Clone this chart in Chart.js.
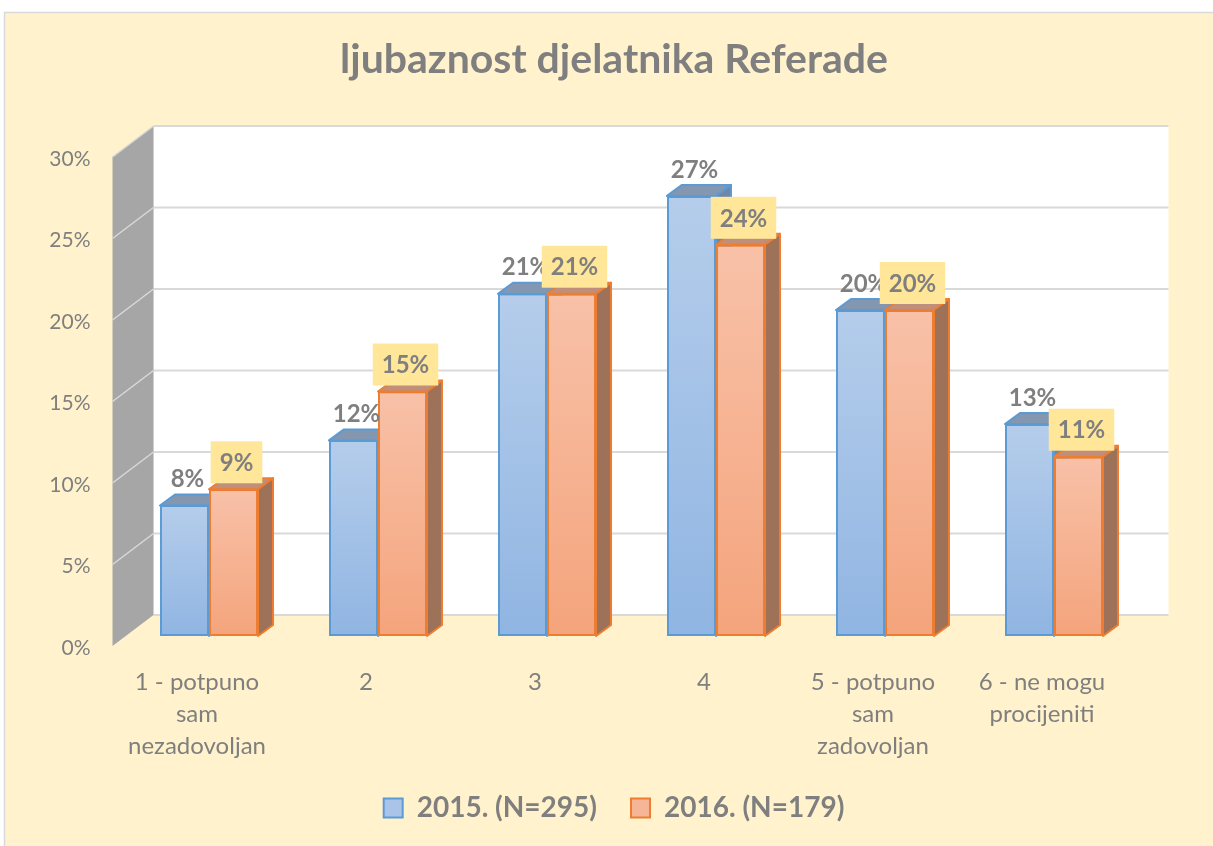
<!DOCTYPE html>
<html>
<head>
<meta charset="utf-8">
<script src="https://cdn.jsdelivr.net/npm/chart.js@4/dist/chart.umd.min.js"></script>
<style>
  html, body { margin: 0; padding: 0; background: #fff; }
  #wrap { width: 1213px; height: 846px; }
</style>
</head>
<body>
<div id="wrap"><canvas id="chart" width="1213" height="846"></canvas></div>
<script>
// podaci
const categories = [
  ['1 - potpuno', 'sam', 'nezadovoljan'],
  '2',
  '3',
  '4',
  ['5 - potpuno', 'sam', 'zadovoljan'],
  ['6 - ne mogu', 'procijeniti']
];
const values2015 = [8, 12, 21, 27, 20, 13];
const values2016 = [9, 15, 21, 24, 20, 11];
const seriesNames = ['2015. (N=295)', '2016. (N=179)'];
const yTicks = [0, 5, 10, 15, 20, 25, 30];

const FONT = 'Lato, "Open Sans", sans-serif';
const GREY = '#7f7f7f';

// dubina 3D stupaca
const BAR_DX = 15, BAR_DY = -11;
// pomak zida i poda u odnosu na prednju stranu stupaca
const WALL_DX = 29, WALL_DY = -21;
const FLOOR_DX = -12, FLOOR_DY = 10;

const palette = [
  { top: '#b5cdeb', bottom: '#90b5e2', border: '#5b9bd5', cap: '#8497b0', side: '#6f87a6', legend: '#a9c4e8' },
  { top: '#f8c1a8', bottom: '#f4a47c', border: '#ed7d31', cap: '#bf8f7b', side: '#9e7159', legend: '#f6b597' }
];

function barGradient(ctx, i) {
  const chart = ctx.chart;
  const y = chart.scales.y;
  if (!chart.chartArea || !y || ctx.raw == null) return palette[i].bottom;
  const g = chart.ctx.createLinearGradient(0, y.getPixelForValue(ctx.raw), 0, y.getPixelForValue(0));
  g.addColorStop(0, palette[i].top);
  g.addColorStop(1, palette[i].bottom);
  return g;
}

// pozadina grafikona
const backgroundPlugin = {
  id: 'background',
  beforeDraw(chart) {
    const c = chart.ctx;
    c.save();
    c.fillStyle = '#ffffff';
    c.fillRect(0, 0, chart.width, chart.height);
    c.fillStyle = '#fff2cc';
    c.fillRect(4, 12, chart.width - 4, chart.height - 12);
    c.strokeStyle = '#d9d9d9';
    c.lineWidth = 1.5;
    c.strokeRect(4.5, 12.5, chart.width, chart.height);
    c.restore();
  }
};

// stražnji i lijevi zid s mrežom
const wallsPlugin = {
  id: 'walls',
  beforeDatasetsDraw(chart) {
    const c = chart.ctx;
    const a = chart.chartArea;
    const y = chart.scales.y;
    const wl = a.left + WALL_DX, wr = a.right + WALL_DX + 1;
    const fl = a.left + FLOOR_DX;
    const yTop = y.getPixelForValue(yTicks[yTicks.length - 1]);
    const yBot = y.getPixelForValue(0);
    c.save();
    // stražnji zid
    c.fillStyle = '#ffffff';
    c.fillRect(wl, yTop + WALL_DY, wr - wl, yBot - yTop);
    c.strokeStyle = '#d9d9d9';
    c.lineWidth = 2;
    yTicks.forEach(v => {
      const py = y.getPixelForValue(v) + WALL_DY;
      c.beginPath();
      c.moveTo(wl, py);
      c.lineTo(wr, py);
      c.stroke();
    });
    // lijevi zid
    c.fillStyle = '#a6a6a6';
    c.beginPath();
    c.moveTo(fl, yTop + FLOOR_DY);
    c.lineTo(wl, yTop + WALL_DY);
    c.lineTo(wl, yBot + WALL_DY);
    c.lineTo(fl, yBot + FLOOR_DY);
    c.closePath();
    c.fill();
    c.strokeStyle = '#d9d9d9';
    c.lineWidth = 1.5;
    yTicks.forEach(v => {
      const py = y.getPixelForValue(v);
      if (v === 0) return;
      c.beginPath();
      c.moveTo(fl, py + FLOOR_DY);
      c.lineTo(wl, py + WALL_DY);
      c.stroke();
    });
    c.restore();
  }
};

function drawFaces(c, meta, col) {
  c.save();
  c.lineWidth = 2;
  c.lineJoin = 'round';
  c.strokeStyle = col.border;
  meta.data.forEach(bar => {
    const p = bar.getProps(['x', 'y', 'base', 'width'], true);
    const l = p.x - p.width / 2, r = p.x + p.width / 2;
    // gornja ploha
    c.fillStyle = col.cap;
    c.beginPath();
    c.moveTo(l, p.y);
    c.lineTo(l + BAR_DX, p.y + BAR_DY);
    c.lineTo(r + BAR_DX, p.y + BAR_DY);
    c.lineTo(r, p.y);
    c.closePath();
    c.fill();
    c.stroke();
    // bočna ploha
    c.fillStyle = col.side;
    c.beginPath();
    c.moveTo(r, p.y);
    c.lineTo(r + BAR_DX, p.y + BAR_DY);
    c.lineTo(r + BAR_DX, p.base + BAR_DY);
    c.lineTo(r, p.base);
    c.closePath();
    c.fill();
    c.stroke();
  });
  c.restore();
}

// 3D stupci: plavi pa narančasti preko njih
const bars3dPlugin = {
  id: 'bars3d',
  afterDatasetsDraw(chart) {
    const c = chart.ctx;
    const m0 = chart.getDatasetMeta(0);
    const m1 = chart.getDatasetMeta(1);
    drawFaces(c, m0, palette[0]);
    m1.data.forEach(el => el.draw(c));
    drawFaces(c, m1, palette[1]);
  }
};

// oznake vrijednosti
const labelsPlugin = {
  id: 'valueLabels',
  afterDatasetsDraw(chart) {
    const c = chart.ctx;
    c.save();
    c.font = 'bold 24px ' + FONT;
    c.textAlign = 'center';
    c.textBaseline = 'middle';
    [0, 1].forEach(i => {
      const meta = chart.getDatasetMeta(i);
      meta.data.forEach((bar, j) => {
        const text = chart.data.datasets[i].data[j] + '%';
        const cx = bar.x + 3;
        const cy = bar.y - 27;
        if (i === 1) {
          const w = c.measureText(text).width + 18;
          c.fillStyle = '#ffe699';
          c.fillRect(cx - w / 2, cy - 21, w, 42);
        }
        c.fillStyle = GREY;
        c.fillText(text, cx, cy + 1);
      });
    });
    c.restore();
  }
};

new Chart(document.getElementById('chart'), {
  type: 'bar',
  data: {
    labels: categories,
    datasets: [
      {
        label: seriesNames[0],
        data: values2015,
        backgroundColor: ctx => barGradient(ctx, 0),
        borderColor: palette[0].border,
        borderWidth: 2,
        borderSkipped: false
      },
      {
        label: seriesNames[1],
        data: values2016,
        backgroundColor: ctx => barGradient(ctx, 1),
        borderColor: palette[1].border,
        borderWidth: 2,
        borderSkipped: false
      }
    ]
  },
  options: {
    responsive: false,
    animation: false,
    layout: { padding: { left: 40, right: 25, top: 0, bottom: 14 } },
    categoryPercentage: 0.58,
    barPercentage: 1,
    scales: {
      x: {
        grid: { display: false },
        border: { display: false },
        ticks: {
          color: GREY,
          font: { family: FONT, size: 24, lineHeight: 1.34 },
          padding: 22,
          labelOffset: -12,
          maxRotation: 0,
          autoSkip: false
        },
        afterFit: scale => { scale.height = 124; }
      },
      y: {
        min: 0,
        max: 30,
        grid: { display: false },
        border: { display: false },
        ticks: {
          stepSize: 5,
          color: GREY,
          font: { family: FONT, size: 21 },
          padding: 26,
          labelOffset: 12,
          callback: v => v + '%'
        },
        afterFit: scale => { scale.width = 84.5; }
      },
      // prazan prostor desno od zida
      yRight: {
        position: 'right',
        grid: { display: false },
        border: { display: false },
        ticks: { display: false },
        afterFit: scale => { scale.width = 49.5; }
      }
    },
    plugins: {
      title: {
        display: true,
        text: 'ljubaznost djelatnika Referade',
        color: GREY,
        font: { family: FONT, size: 41, weight: 'bold', lineHeight: 1.2 },
        padding: { top: 35.4, bottom: 62.4 }
      },
      legend: {
        position: 'bottom',
        labels: {
          color: GREY,
          font: { family: FONT, size: 28, weight: 'bold' },
          boxWidth: 19,
          boxHeight: 19,
          padding: 34,
          sort: (a, b) => a.datasetIndex - b.datasetIndex,
          generateLabels: chart => {
            const items = Chart.defaults.plugins.legend.labels.generateLabels(chart);
            items.forEach(it => {
              it.fillStyle = palette[it.datasetIndex].legend;
              it.strokeStyle = palette[it.datasetIndex].border;
              it.lineWidth = 2;
            });
            return items;
          }
        }
      },
      tooltip: { enabled: false }
    }
  },
  plugins: [backgroundPlugin, wallsPlugin, bars3dPlugin, labelsPlugin]
});
</script>
</body>
</html>
